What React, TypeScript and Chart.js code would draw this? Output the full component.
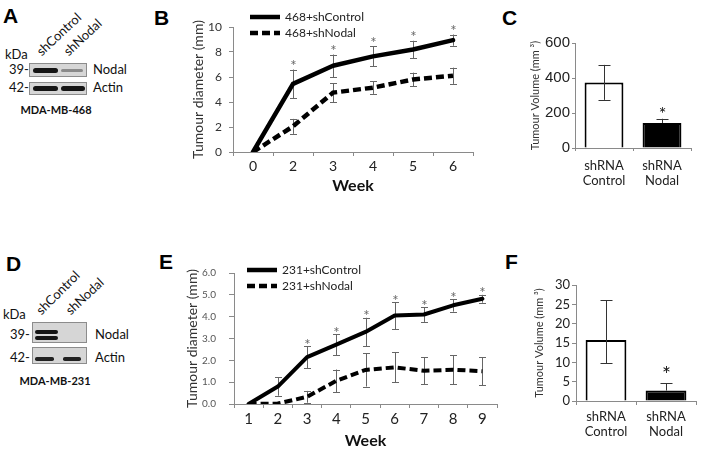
import React, { useEffect, useRef } from "react";
import { Chart, registerables } from "chart.js";
Chart.register(...registerables);

// ---------- Data ----------
const weeksB = ["0", "2", "3", "4", "5", "6"];
const ctrlB = [0, 5.45, 6.9, 7.65, 8.2, 8.95];
const ctrlBErr = [0, 1.15, 0.9, 0.8, 0.7, 0.45];
const nodalB = [0, 2.05, 4.75, 5.15, 5.8, 6.1];
const nodalBErr = [0, 0.6, 0.75, 0.5, 0.55, 0.65];
const starsB = [false, true, true, true, true, true];

const weeksE = ["1", "2", "3", "4", "5", "6", "7", "8", "9"];
const ctrlE = [0, 0.8, 2.15, 2.72, 3.3, 4.05, 4.1, 4.52, 4.82];
const ctrlEErr = [0, 0.42, 0.5, 0.48, 0.65, 0.62, 0.34, 0.29, 0.18];
const nodalE = [0, 0.02, 0.33, 1.06, 1.56, 1.68, 1.52, 1.57, 1.5];
const nodalEErr = [0, 0, 0.27, 0.52, 0.76, 0.68, 0.62, 0.67, 0.65];
const starsE = [false, false, true, true, true, true, true, true, true];

const groupsVol = [["shRNA", "Control"], ["shRNA", "Nodal"]];
const volC = [375, 143];
const volCErrUp = [100, 24];
const volCErrDown = [100, 0];
const volF = [15.8, 2.7];
const volFErrUp = [10.2, 1.9];
const volFErrDown = [6.1, 0];
const volStars = [false, true];

const ticksB = { min: 0, max: 10, step: 2 };
const ticksC = { min: 0, max: 600, step: 200 };
const ticksE = { min: 0, max: 6, step: 1 };
const ticksF = { min: 0, max: 30, step: 5 };

// ---------- helpers ----------
type Box = { left: number; top: number; width: number; height: number };
type Area = { left: number; right: number; top: number; bottom: number };

function fitLayout(box: Box, ca: Area) {
  return {
    padding: { left: 0, top: ca.top - box.top, right: box.left + box.width - ca.right, bottom: 0 },
    yWidth: ca.left - box.left,
    xHeight: box.top + box.height - ca.bottom,
  };
}

type ErrSet = { up: number[]; down: number[]; stars: boolean[] };
type ErrCfg = {
  sets: ErrSet[];
  color: string;
  cap: number;
  starFont: string;
  starSize: number;
  starColor: string;
  starGap: number;
  behind: boolean;
};

function makeErrorPlugin(id: string, cfg: ErrCfg) {
  const draw = (chart: any) => {
    const ctx = chart.ctx as CanvasRenderingContext2D;
    const ys = chart.scales.y;
    ctx.save();
    cfg.sets.forEach((set, di) => {
      const meta = chart.getDatasetMeta(di);
      const data = chart.data.datasets[di].data as number[];
      data.forEach((v, j) => {
        const el = meta.data[j];
        if (!el) return;
        const eu = set.up[j] || 0;
        const ed = set.down[j] || 0;
        const x = Math.round(el.x) + 0.5;
        const yTop = ys.getPixelForValue(v + eu);
        const yBot = ys.getPixelForValue(v - ed);
        if (eu > 0 || ed > 0) {
          ctx.strokeStyle = cfg.color;
          ctx.lineWidth = 1;
          ctx.setLineDash([]);
          ctx.beginPath();
          ctx.moveTo(x, yTop);
          ctx.lineTo(x, yBot);
          if (eu > 0) {
            const ht = Math.round(yTop) + 0.5;
            ctx.moveTo(x - cfg.cap / 2, ht);
            ctx.lineTo(x + cfg.cap / 2, ht);
          }
          if (ed > 0) {
            const hb = Math.round(yBot) + 0.5;
            ctx.moveTo(x - cfg.cap / 2, hb);
            ctx.lineTo(x + cfg.cap / 2, hb);
          }
          ctx.stroke();
        }
        if (set.stars[j]) {
          ctx.fillStyle = cfg.starColor;
          ctx.font = cfg.starFont;
          ctx.textAlign = "center";
          ctx.textBaseline = "alphabetic";
          const cy = yTop - cfg.starGap;
          ctx.fillText("*", x, cy + cfg.starSize * 0.57);
        }
      });
    });
    ctx.restore();
  };
  const p: any = { id };
  if (cfg.behind) p.beforeDatasetsDraw = draw;
  else p.afterDatasetsDraw = draw;
  return p;
}

function makeLegendPlugin(
  id: string,
  cfg: { dx: number; dy: number; gap: number; len: number; lineWidth: number; font: string; color: string; textGap: number }
) {
  return {
    id,
    afterDraw(chart: any) {
      const ctx = chart.ctx as CanvasRenderingContext2D;
      const ca = chart.chartArea;
      chart.data.datasets.forEach((ds: any, i: number) => {
        const x0 = ca.left + cfg.dx;
        const yy = Math.round(ca.top + cfg.dy + i * cfg.gap);
        ctx.save();
        ctx.strokeStyle = ds.borderColor;
        ctx.lineWidth = cfg.lineWidth;
        ctx.lineCap = "butt";
        ctx.setLineDash(ds.borderDash || []);
        ctx.beginPath();
        ctx.moveTo(x0, yy);
        ctx.lineTo(x0 + cfg.len, yy);
        ctx.stroke();
        ctx.setLineDash([]);
        ctx.fillStyle = cfg.color;
        ctx.font = cfg.font;
        ctx.textBaseline = "middle";
        ctx.textAlign = "left";
        ctx.fillText(ds.label, x0 + cfg.len + cfg.textGap, yy);
        ctx.restore();
      });
    },
  };
}

const AXIS = "#8a8a8a";

function lineChart(
  canvas: HTMLCanvasElement,
  box: Box,
  area: Area,
  p: {
    labels: string[];
    ctrl: number[];
    nodal: number[];
    ctrlErr: number[];
    nodalErr: number[];
    stars: boolean[];
    names: string[];
    t: { min: number; max: number; step: number };
    yFmt: (v: number) => string;
    yFont: number;
    yColor: string;
    yTickLen: number;
    yPad: number;
    xFont: number;
    yTitlePad: number;
    xTitlePad: number;
    lineWidth: number;
    starGap: number;
    legend: { dx: number; dy: number };
  }
) {
  const L = fitLayout(box, area);
  return new Chart(canvas, {
    type: "line",
    data: {
      labels: p.labels,
      datasets: [
        {
          label: p.names[0],
          data: p.ctrl,
          borderColor: "#000",
          borderWidth: p.lineWidth,
          borderCapStyle: "round",
          borderJoinStyle: "round",
          pointRadius: 0,
          tension: 0,
          fill: false,
        },
        {
          label: p.names[1],
          data: p.nodal,
          borderColor: "#000",
          borderWidth: p.lineWidth,
          borderDash: [8, 4],
          borderCapStyle: "butt",
          pointRadius: 0,
          tension: 0,
          fill: false,
        },
      ],
    },
    options: {
      responsive: false,
      animation: false,
      devicePixelRatio: 1,
      layout: { padding: L.padding },
      plugins: { legend: { display: false }, tooltip: { enabled: false } },
      scales: {
        x: {
          type: "category",
          offset: true,
          grid: { display: true, drawOnChartArea: false, drawTicks: true, tickLength: 4, offset: true, color: AXIS },
          border: { display: true, color: AXIS, width: 1 },
          ticks: { font: { family: "Lato", size: p.xFont }, color: "#222", padding: 2, maxRotation: 0, autoSkip: false },
          title: {
            display: true,
            text: "Week",
            font: { family: "Lato", size: 16, weight: "bold" },
            color: "#111",
            padding: { top: 0, bottom: p.xTitlePad },
          },
          afterFit: (s: any) => {
            s.height = L.xHeight;
          },
        },
        y: {
          min: p.t.min,
          max: p.t.max,
          grid: { display: true, drawOnChartArea: false, drawTicks: true, tickLength: p.yTickLen, color: AXIS },
          border: { display: true, color: AXIS, width: 1 },
          ticks: {
            stepSize: p.t.step,
            font: { family: "Lato", size: p.yFont },
            color: p.yColor,
            padding: p.yPad,
            callback: (v: any) => p.yFmt(Number(v)),
          },
          title: {
            display: true,
            text: "Tumour diameter (mm)",
            font: { family: "Lato", size: 14 },
            color: "#333",
            padding: { top: p.yTitlePad, bottom: 0 },
          },
          afterFit: (s: any) => {
            s.width = L.yWidth;
          },
        },
      },
    } as any,
    plugins: [
      makeErrorPlugin("err" + p.names[0], {
        sets: [
          { up: p.ctrlErr, down: p.ctrlErr, stars: p.stars },
          { up: p.nodalErr, down: p.nodalErr, stars: p.nodal.map(() => false) },
        ],
        color: "#666",
        cap: 7,
        starFont: "15px Lato",
        starSize: 15,
        starColor: "#666",
        starGap: p.starGap,
        behind: true,
      }),
      makeLegendPlugin("leg" + p.names[0], {
        dx: p.legend.dx,
        dy: p.legend.dy,
        gap: 16,
        len: 30,
        lineWidth: 4.5,
        font: "12px Lato",
        color: "#222",
        textGap: 5,
      }),
    ],
  });
}

function barChart(
  canvas: HTMLCanvasElement,
  box: Box,
  area: Area,
  p: {
    values: number[];
    errUp: number[];
    errDown: number[];
    t: { min: number; max: number; step: number };
    yFont: any;
    yTickLen: number;
    xPad: number;
    xTickLen: number;
    yTitlePad: number;
    barPct: number;
    starSize: number;
    starGap: number;
    id: string;
  }
) {
  const L = fitLayout(box, area);
  return new Chart(canvas, {
    type: "bar",
    data: {
      labels: groupsVol,
      datasets: [
        {
          data: p.values,
          backgroundColor: ["#ffffff", "#000000"],
          borderColor: "#000",
          borderWidth: 2,
          borderSkipped: "start",
          barPercentage: p.barPct,
          categoryPercentage: 1,
        },
      ],
    },
    options: {
      responsive: false,
      animation: false,
      devicePixelRatio: 1,
      layout: { padding: L.padding },
      plugins: { legend: { display: false }, tooltip: { enabled: false } },
      scales: {
        x: {
          type: "category",
          offset: true,
          grid: { display: true, drawOnChartArea: false, drawTicks: true, tickLength: p.xTickLen, offset: true, color: AXIS },
          border: { display: true, color: AXIS, width: 1 },
          ticks: { font: { family: "Lato", size: 13, lineHeight: 1.1 }, color: "#222", padding: p.xPad, maxRotation: 0 },
          afterFit: (s: any) => {
            s.height = L.xHeight;
          },
        },
        y: {
          min: p.t.min,
          max: p.t.max,
          grid: { display: true, drawOnChartArea: false, drawTicks: true, tickLength: p.yTickLen, color: AXIS },
          border: { display: true, color: AXIS, width: 1 },
          ticks: { stepSize: p.t.step, font: p.yFont, color: "#222", padding: 2 },
          title: {
            display: true,
            text: "Tumour Volume (mm ³)",
            font: { family: "Lato", size: 11 },
            color: "#333",
            padding: { top: p.yTitlePad, bottom: 0 },
          },
          afterFit: (s: any) => {
            s.width = L.yWidth;
          },
        },
      },
    } as any,
    plugins: [
      makeErrorPlugin(p.id, {
        sets: [{ up: p.errUp, down: p.errDown, stars: volStars }],
        color: "#333",
        cap: 12,
        starFont: `${p.starSize}px Lato`,
        starSize: p.starSize,
        starColor: "#111",
        starGap: p.starGap,
        behind: false,
      }),
    ],
  });
}

function ChartCanvas({ box, make }: { box: Box; make: (c: HTMLCanvasElement) => Chart }) {
  const ref = useRef<HTMLCanvasElement>(null);
  useEffect(() => {
    const ch = make(ref.current!);
    return () => ch.destroy();
  }, []);
  return (
    <canvas
      ref={ref}
      width={box.width}
      height={box.height}
      style={{ position: "absolute", left: box.left, top: box.top, width: box.width, height: box.height }}
    />
  );
}

// ---------- layout boxes ----------
const boxB: Box = { left: 150, top: 0, width: 350, height: 200 };
const areaB: Area = { left: 233, right: 473, top: 27, bottom: 152 };
const boxE: Box = { left: 150, top: 240, width: 360, height: 210 };
const areaE: Area = { left: 234, right: 497, top: 273, bottom: 404 };
const boxC: Box = { left: 520, top: 0, width: 181, height: 200 };
const areaC: Area = { left: 575, right: 691, top: 43, bottom: 148 };
const boxF: Box = { left: 520, top: 240, width: 181, height: 210 };
const areaF: Area = { left: 576, right: 696, top: 285, bottom: 401 };

// ---------- blot pieces ----------
const Txt = ({ x, y, s, children, bold, family }: any) => (
  <div
    style={{
      position: "absolute",
      left: x,
      top: y,
      transform: "translateY(-50%)",
      fontFamily: family || "Lato",
      fontSize: s,
      fontWeight: bold ? 700 : 400,
      lineHeight: 1,
      whiteSpace: "nowrap",
      color: "#111",
    }}
  >
    {children}
  </div>
);

const CTxt = ({ cx, y, s, children, bold }: any) => (
  <div
    style={{
      position: "absolute",
      left: cx,
      top: y,
      transform: "translate(-50%,-50%)",
      fontFamily: "Lato",
      fontSize: s,
      fontWeight: bold ? 700 : 400,
      lineHeight: 1,
      whiteSpace: "nowrap",
      color: "#111",
    }}
  >
    {children}
  </div>
);

const RotTxt = ({ x, y, s, children, deg }: any) => (
  <div
    style={{
      position: "absolute",
      left: x,
      top: y - s,
      fontFamily: "Lato",
      fontSize: s,
      lineHeight: 1,
      whiteSpace: "nowrap",
      color: "#111",
      transformOrigin: "0% 100%",
      transform: `rotate(${deg}deg)`,
    }}
  >
    {children}
  </div>
);

const Frame = ({ l, t, w, h }: any) => (
  <div
    style={{
      position: "absolute",
      left: l,
      top: t,
      width: w,
      height: h,
      background: "#d6d6d6",
      border: "1px solid #8c8c8c",
      boxSizing: "border-box",
    }}
  />
);

const Band = ({ l, t, w, h, c, blur }: any) => (
  <div
    style={{
      position: "absolute",
      left: l,
      top: t,
      width: w,
      height: h,
      background: c,
      borderRadius: h / 2,
      filter: `blur(${blur ?? 0.7}px)`,
    }}
  />
);

const Letter = ({ x, y, children }: any) => (
  <div
    style={{
      position: "absolute",
      left: x,
      top: y,
      fontFamily: "Liberation Sans",
      fontWeight: 700,
      fontSize: 21,
      lineHeight: 1,
      color: "#000",
    }}
  >
    {children}
  </div>
);

export default function App() {
  return (
    <div style={{ position: "fixed", left: 0, top: 0, width: 701, height: 450, background: "#fff", overflow: "hidden" }}>
      {/* Panel A */}
      <Letter x={3} y={5}>A</Letter>
      <Txt x={5} y={54} s={13}>kDa</Txt>
      <RotTxt x={43} y={58} s={13} deg={-43}>shControl</RotTxt>
      <RotTxt x={70} y={58} s={13} deg={-43}>shNodal</RotTxt>
      <Frame l={29} t={63} w={58} h={14} />
      <Band l={33} t={68} w={25} h={5} c="#151515" />
      <Band l={61} t={69} w={22} h={3} c="#8a8a8a" />
      <Frame l={29} t={82} w={58} h={13} />
      <Band l={33} t={86} w={25} h={5} c="#151515" />
      <Band l={61} t={86} w={24} h={5} c="#151515" />
      <Txt x={9} y={69} s={13}>39-</Txt>
      <Txt x={9} y={87} s={13}>42-</Txt>
      <Txt x={93} y={69} s={13}>Nodal</Txt>
      <Txt x={93} y={87} s={13}>Actin</Txt>
      <CTxt cx={56} y={109} s={11} bold>MDA-MB-468</CTxt>

      {/* Panel D */}
      <Letter x={6} y={253}>D</Letter>
      <Txt x={3} y={314} s={13}>kDa</Txt>
      <RotTxt x={43} y={317} s={13} deg={-45}>shControl</RotTxt>
      <RotTxt x={72} y={317} s={13} deg={-43}>shNodal</RotTxt>
      <Frame l={32} t={322} w={55} h={21} />
      <Band l={35} t={330} w={23} h={4} c="#151515" />
      <Band l={35} t={335.5} w={23} h={4.5} c="#151515" />
      <Frame l={32} t={347} w={55} h={17} />
      <Band l={35} t={357} w={19} h={3.5} c="#222" />
      <Band l={63} t={357} w={18} h={3.5} c="#222" />
      <Txt x={10} y={334} s={13}>39-</Txt>
      <Txt x={10} y={357} s={13}>42-</Txt>
      <Txt x={95} y={334} s={13}>Nodal</Txt>
      <Txt x={95} y={357} s={13}>Actin</Txt>
      <CTxt cx={55} y={380} s={11} bold>MDA-MB-231</CTxt>

      {/* Panel letters */}
      <Letter x={154} y={7}>B</Letter>
      <Letter x={502} y={7}>C</Letter>
      <Letter x={159} y={251}>E</Letter>
      <Letter x={505} y={251}>F</Letter>

      <ChartCanvas
        box={boxB}
        make={(c) =>
          lineChart(c, boxB, areaB, {
            labels: weeksB,
            ctrl: ctrlB,
            nodal: nodalB,
            ctrlErr: ctrlBErr,
            nodalErr: nodalBErr,
            stars: starsB,
            names: ["468+shControl", "468+shNodal"],
            t: ticksB,
            yFmt: (v) => String(v),
            yFont: 12,
            yColor: "#333",
            yTickLen: 4,
            yPad: 7,
            xFont: 14,
            yTitlePad: 40,
            xTitlePad: 5,
            lineWidth: 4.5,
            starGap: 7,
            legend: { dx: 17, dy: -10 },
          })
        }
      />
      <ChartCanvas
        box={boxE}
        make={(c) =>
          lineChart(c, boxE, areaE, {
            labels: weeksE,
            ctrl: ctrlE,
            nodal: nodalE,
            ctrlErr: ctrlEErr,
            nodalErr: nodalEErr,
            stars: starsE,
            names: ["231+shControl", "231+shNodal"],
            t: ticksE,
            yFmt: (v) => v.toFixed(1),
            yFont: 10,
            yColor: "#555",
            yTickLen: 5,
            yPad: 13,
            xFont: 15,
            yTitlePad: 34,
            xTitlePad: 0,
            lineWidth: 4,
            starGap: 5,
            legend: { dx: 13, dy: -3 },
          })
        }
      />
      <ChartCanvas
        box={boxC}
        make={(c) =>
          barChart(c, boxC, areaC, {
            values: volC,
            errUp: volCErrUp,
            errDown: volCErrDown,
            t: ticksC,
            yFont: { family: "Liberation Sans", size: 15 },
            yTickLen: 3,
            xPad: 8,
            xTickLen: 3,
            yTitlePad: 9,
            barPct: 0.67,
            starSize: 18,
            starGap: 9,
            id: "errC",
          })
        }
      />
      <ChartCanvas
        box={boxF}
        make={(c) =>
          barChart(c, boxF, areaF, {
            values: volF,
            errUp: volFErrUp,
            errDown: volFErrDown,
            t: ticksF,
            yFont: { family: "Lato", size: 13 },
            yTickLen: 4,
            xPad: 5,
            xTickLen: 4,
            yTitlePad: 13,
            barPct: 0.68,
            starSize: 21,
            starGap: 13,
            id: "errF",
          })
        }
      />
    </div>
  );
}
